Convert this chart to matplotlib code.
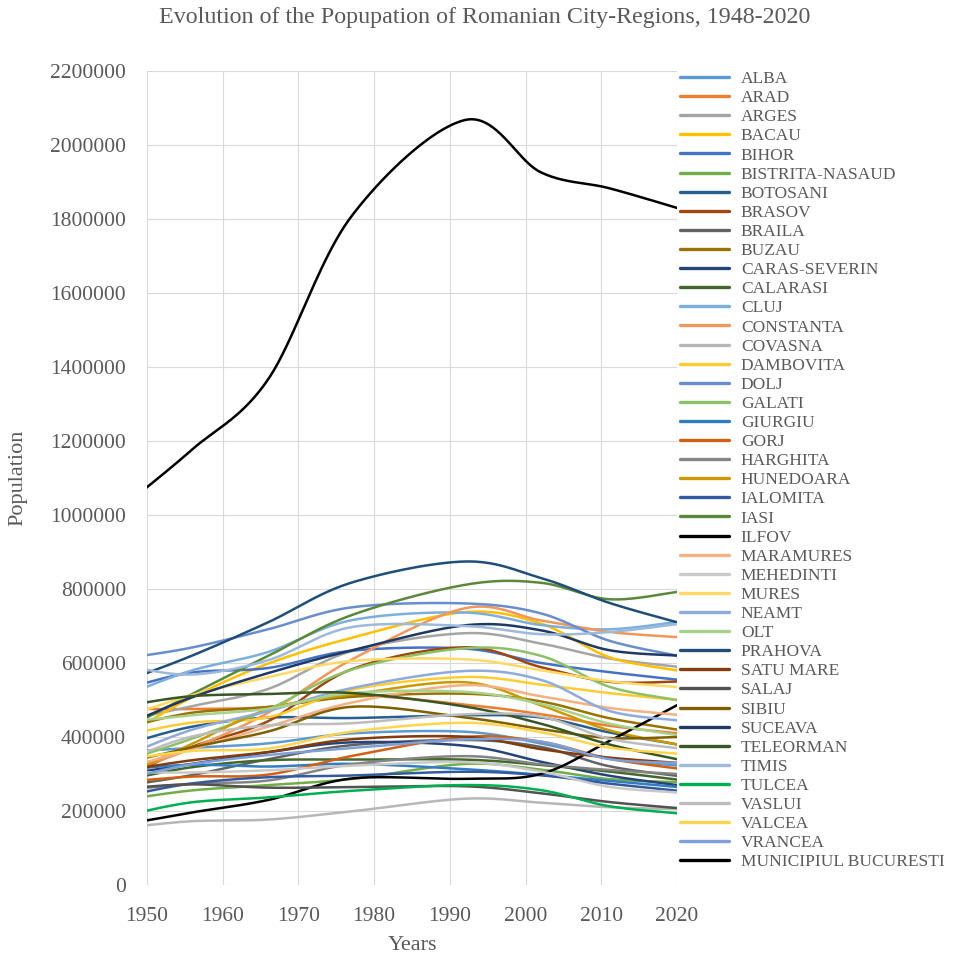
import numpy as np
import matplotlib
matplotlib.use("Agg")
import matplotlib.pyplot as plt

# ---------------- data ----------------
years = [1948, 1956, 1966, 1977, 1992, 2002, 2011, 2020]

counties = [
    "ALBA", "ARAD", "ARGES", "BACAU", "BIHOR", "BISTRITA-NASAUD", "BOTOSANI",
    "BRASOV", "BRAILA", "BUZAU", "CARAS-SEVERIN", "CALARASI", "CLUJ",
    "CONSTANTA", "COVASNA", "DAMBOVITA", "DOLJ", "GALATI", "GIURGIU", "GORJ",
    "HARGHITA", "HUNEDOARA", "IALOMITA", "IASI", "ILFOV", "MARAMURES",
    "MEHEDINTI", "MURES", "NEAMT", "OLT", "PRAHOVA", "SATU MARE", "SALAJ",
    "SIBIU", "SUCEAVA", "TELEORMAN", "TIMIS", "TULCEA", "VASLUI", "VALCEA",
    "VRANCEA", "MUNICIPIUL BUCURESTI",
]

alba = [361062, 370800, 382786, 409634, 414227, 382747, 342376, 323000]
arad = [476207, 475620, 481248, 512020, 487617, 461791, 430629, 410000]
arges = [448964, 483741, 529833, 631918, 680574, 652625, 612431, 590000]
bacau = [414996, 507937, 598273, 667791, 737512, 706623, 616168, 580000]
bihor = [536323, 574488, 586460, 633094, 638863, 600246, 575398, 555000]
bistrita = [233650, 255789, 269954, 286628, 327238, 311657, 286225, 278000]
botosani = [385236, 428050, 452406, 451217, 458904, 452834, 412626, 380000]
brasov = [300836, 373941, 442692, 582863, 642513, 589028, 549217, 550000]
braila = [271251, 297276, 339954, 377954, 392031, 373174, 321212, 295000]
buzau = [430225, 465829, 480951, 508424, 516961, 496214, 451069, 420000]
caras = [302254, 327787, 358726, 385577, 376347, 333219, 295579, 270000]
calarasi = [287722, 318573, 337261, 338807, 338844, 324617, 306691, 285000]
cluj = [520073, 580344, 629746, 715507, 736301, 702755, 691106, 711000]
constanta = [311062, 369940, 465752, 608817, 748044, 715151, 684082, 670000]
covasna = [157166, 172509, 176858, 199017, 233256, 222449, 210177, 205000]
dambovita = [409272, 438985, 453241, 527620, 562041, 541763, 518745, 500000]
dolj = [615301, 642028, 691116, 750328, 761074, 734231, 660544, 620000]
galati = [341797, 396138, 474279, 581561, 639853, 619556, 536167, 500000]
giurgiu = [313793, 325045, 320120, 327494, 313084, 297859, 281422, 265000]
gorj = [280524, 293031, 298382, 348521, 400100, 387308, 341594, 315000]
harghita = [258495, 273964, 282392, 326310, 348335, 326222, 310867, 300000]
hunedoara = [306955, 381902, 474602, 514436, 547950, 485712, 418565, 380000]
ialomita = [244750, 274655, 291373, 295965, 306145, 296572, 274148, 255000]
iasi = [431586, 516635, 619027, 729243, 811342, 816910, 772348, 792000]
ilfov = [167533, 196265, 229773, 287738, 286965, 300123, 388738, 486000]
maramures = [321287, 367114, 427645, 492860, 540099, 510110, 478659, 460000]
mehedinti = [304788, 304091, 310021, 322371, 332091, 306732, 265390, 250000]
mures = [461403, 513261, 561598, 605345, 610053, 580851, 550846, 535000]
neamt = [357348, 419949, 470206, 532096, 578420, 554516, 470766, 445000]
olt = [442442, 458982, 476513, 518804, 522011, 489274, 436400, 405000]
prahova = [557776, 620311, 710003, 817168, 874349, 829945, 762886, 710000]
satu_mare = [312672, 337351, 359393, 393840, 400789, 367281, 344360, 330000]
salaj = [262580, 271989, 263103, 264569, 266797, 248015, 224384, 208000]
sibiu = [335116, 372687, 414756, 481645, 452820, 421724, 397322, 400000]
suceava = [439751, 507674, 572781, 633899, 701830, 688435, 634810, 620000]
teleorman = [487394, 510488, 516222, 518943, 482281, 436025, 380123, 340000]
timis = [588936, 568881, 607596, 696884, 700033, 677926, 683540, 705000]
tulcea = [192228, 223719, 236709, 254531, 270197, 256492, 213083, 194000]
vaslui = [344917, 401626, 431555, 437251, 461374, 455049, 395499, 370000]
valcea = [341590, 362356, 368779, 414241, 438388, 413247, 371714, 355000]
vrancea = [291366, 326532, 351292, 369740, 393408, 387632, 340310, 330000]
bucuresti = [1041807, 1177661, 1366684, 1807239, 2067545, 1926334, 1883425, 1830000]

series = [alba, arad, arges, bacau, bihor, bistrita, botosani, brasov, braila,
          buzau, caras, calarasi, cluj, constanta, covasna, dambovita, dolj,
          galati, giurgiu, gorj, harghita, hunedoara, ialomita, iasi, ilfov,
          maramures, mehedinti, mures, neamt, olt, prahova, satu_mare, salaj,
          sibiu, suceava, teleorman, timis, tulcea, vaslui, valcea, vrancea,
          bucuresti]

colors = [
    "#5B9BD5", "#ED7D31", "#A5A5A5", "#FFC000", "#4472C4", "#70AD47",
    "#255E91", "#9E480E", "#636363", "#997300", "#264478", "#43682B",
    "#7CAFDD", "#F1975A", "#B7B7B7", "#FFCD33", "#698ED0", "#8CC168",
    "#327DC2", "#D26012", "#848484", "#CC9A00", "#335AA1", "#5A8A39",
    "#000000", "#F4B183", "#C9C9C9", "#FFD966", "#8FAADC", "#A9D18E",
    "#1F4E79", "#843C0C", "#525252", "#7F6000", "#203864", "#385723",
    "#9DB9DC", "#00B050", "#BDBDBD", "#FFD54F", "#7F9FD8", "#000000",
]


def excel_smooth(x, y, n=40):
    """Smoothed (Catmull-Rom / Bezier) curve through the data points,
    like a spreadsheet 'smoothed line'."""
    pts = np.column_stack([np.asarray(x, float), np.asarray(y, float)])
    out = []
    t = np.linspace(0, 1, n)[:, None]
    for i in range(len(pts) - 1):
        p0 = pts[i - 1] if i > 0 else pts[i]
        p1 = pts[i]
        p2 = pts[i + 1]
        p3 = pts[i + 2] if i + 2 < len(pts) else pts[i + 1]
        c1 = p1 + (p2 - p0) / 6.0
        c2 = p2 - (p3 - p1) / 6.0
        seg = ((1 - t) ** 3) * p1 + 3 * ((1 - t) ** 2) * t * c1 \
            + 3 * (1 - t) * t ** 2 * c2 + t ** 3 * p2
        out.append(seg if i == 0 else seg[1:])
    s = np.vstack(out)
    return s[:, 0], s[:, 1]


# ---------------- figure ----------------
W, H = 969, 958
fig = plt.figure(figsize=(W / 100, H / 100), dpi=100)
serif = ["Liberation Serif", "DejaVu Serif"]
txt = "#595959"

left, right, top, bottom = 147, 677, 71, 885
ax = fig.add_axes([left / W, 1 - bottom / H, (right - left) / W, (bottom - top) / H])

handles = []
for name, vals, c in zip(counties, series, colors):
    sx, sy = excel_smooth(years, vals)
    ln, = ax.plot(sx, sy, color=c, lw=1.8, label=name, solid_capstyle="round")
    handles.append(ln)

ax.set_xlim(1950, 2020)
ax.set_ylim(0, 2200000)
ax.set_xticks(np.arange(1950, 2021, 10))
ax.set_yticks(np.arange(0, 2200001, 200000))
ax.set_yticklabels([f"{v:d}" for v in range(0, 2200001, 200000)])
ax.grid(True, color="#D9D9D9", lw=0.8)
ax.set_axisbelow(True)
for s in ax.spines.values():
    s.set_visible(False)
ax.tick_params(axis="both", length=0, colors=txt, labelsize=15.5)
ax.tick_params(axis="y", pad=15)
ax.tick_params(axis="x", pad=16)
for lab in ax.get_xticklabels() + ax.get_yticklabels():
    lab.set_family(serif)

fig.text(18 / W, 1 - 478 / H, "Population", rotation=90, ha="center",
         va="center", fontsize=16, color=txt, family=serif)
fig.text(412 / W, 1 - 945 / H, "Years", ha="center", va="center",
         fontsize=16, color=txt, family=serif)
fig.text(485 / W, 1 - 18 / H,
         "Evolution of the Popupation of Romanian City-Regions, 1948-2020",
         ha="center", va="center", fontsize=17.3, color=txt, family=serif)

leg = fig.legend(handles=handles, loc="upper left",
                 bbox_to_anchor=(680 / W, 1 - 71 / H), frameon=False,
                 borderpad=0, borderaxespad=0, handlelength=2.8,
                 handletextpad=0.7, labelspacing=0.17,
                 prop={"family": serif, "size": 12.5})
for t in leg.get_texts():
    t.set_color(txt)
for l in leg.get_lines():
    l.set_linewidth(2.4)

fig.savefig("out.png", dpi=100)
